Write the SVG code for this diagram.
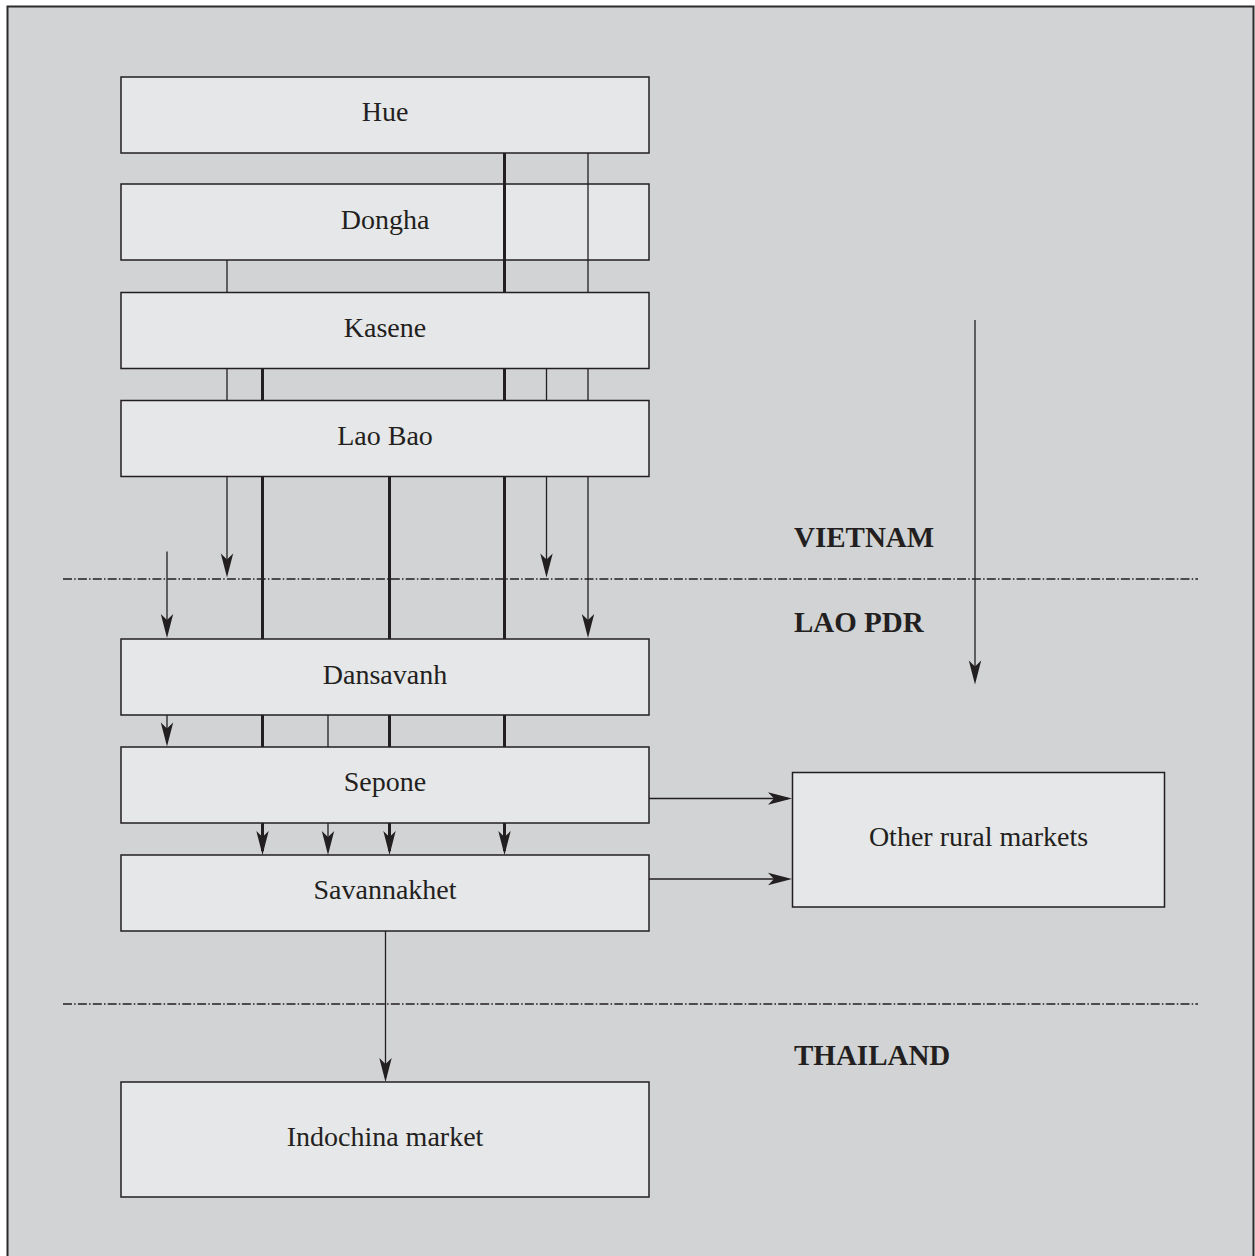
<svg xmlns="http://www.w3.org/2000/svg" width="1255" height="1256" viewBox="0 0 1255 1256">
  <style>
    .node rect { fill: #e6e7e8; stroke: #231f20; stroke-width: 1.5; }
    .node text { font-family: "Liberation Serif", "Times New Roman", serif; font-size: 28px; fill: #231f20; text-anchor: middle; }
    .region { font-family: "Liberation Serif", "Times New Roman", serif; font-size: 29px; font-weight: bold; fill: #231f20; }
    .thin { stroke: #231f20; stroke-width: 1.3; fill: none; }
    .thick { stroke: #231f20; stroke-width: 3; fill: none; }
    .border { stroke: #231f20; stroke-width: 1.3; stroke-dasharray: 9 2.2 1.5 2.2; fill: none; }
  </style>
  <defs>
    <marker id="arrow" markerUnits="userSpaceOnUse" viewBox="-25 -7 26 14" refX="-4" refY="0" markerWidth="26" markerHeight="14" orient="auto">
      <path d="M0,0 L-24,-6.2 L-18,0 L-24,6.2 Z" fill="#231f20"/>
    </marker>
  </defs>

  <!-- page background and frame -->
  <rect x="7.5" y="6.5" width="1246" height="1270" fill="#d1d3d4" stroke="#2b2b2b" stroke-width="2"/>

  <!-- border lines between countries -->
  <g id="borders">
    <line class="border" x1="63" y1="579" x2="1198" y2="579"/>
    <line class="border" x1="63" y1="1004" x2="1198" y2="1004"/>
  </g>

  <!-- country labels -->
  <text class="region" x="794" y="547">VIETNAM</text>
  <text class="region" x="794" y="632">LAO PDR</text>
  <text class="region" x="794" y="1065">THAILAND</text>

  <!-- nodes -->
  <g id="hue" class="node"><rect x="121" y="77" width="528" height="76"/><text x="385" y="121">Hue</text></g>
  <g id="dongha" class="node"><rect x="121" y="184" width="528" height="76"/><text x="385" y="228.5">Dongha</text></g>
  <g id="kasene" class="node"><rect x="121" y="292.5" width="528" height="76"/><text x="385" y="337">Kasene</text></g>
  <g id="laobao" class="node"><rect x="121" y="400.5" width="528" height="76"/><text x="385" y="445">Lao Bao</text></g>
  <g id="dansavanh" class="node"><rect x="121" y="639" width="528" height="76"/><text x="385" y="683.5">Dansavanh</text></g>
  <g id="sepone" class="node"><rect x="121" y="747" width="528" height="76"/><text x="385" y="791">Sepone</text></g>
  <g id="savannakhet" class="node"><rect x="121" y="855" width="528" height="76"/><text x="385" y="899">Savannakhet</text></g>
  <g id="indochina" class="node"><rect x="121" y="1082" width="528" height="115"/><text x="385" y="1146">Indochina market</text></g>
  <g id="rural" class="node"><rect x="792.5" y="772.5" width="372" height="134.5"/><text x="978.5" y="846">Other rural markets</text></g>

  <!-- connectors -->
  <g id="connectors">
    <!-- x = 504.5, thick route from Hue -->
    <line class="thick" x1="504.5" y1="153" x2="504.5" y2="292.5"/>
    <line class="thick" x1="504.5" y1="368.5" x2="504.5" y2="400.5"/>
    <line class="thick" x1="504.5" y1="476.5" x2="504.5" y2="639"/>
    <line class="thick" x1="504.5" y1="715" x2="504.5" y2="747"/>
    <line class="thick" x1="504.5" y1="823" x2="504.5" y2="851" marker-end="url(#arrow)"/>

    <!-- x = 588, thin route from Hue -->
    <line class="thin" x1="588" y1="153" x2="588" y2="292.5"/>
    <line class="thin" x1="588" y1="368.5" x2="588" y2="400.5"/>
    <line class="thin" x1="588" y1="476.5" x2="588" y2="634" marker-end="url(#arrow)"/>

    <!-- x = 227, thin route from Dongha -->
    <line class="thin" x1="227" y1="260" x2="227" y2="292.5"/>
    <line class="thin" x1="227" y1="368.5" x2="227" y2="400.5"/>
    <line class="thin" x1="227" y1="476.5" x2="227" y2="573.5" marker-end="url(#arrow)"/>

    <!-- x = 262.5, thick route from Kasene -->
    <line class="thick" x1="262.5" y1="368.5" x2="262.5" y2="400.5"/>
    <line class="thick" x1="262.5" y1="476.5" x2="262.5" y2="639"/>
    <line class="thick" x1="262.5" y1="715" x2="262.5" y2="747"/>
    <line class="thick" x1="262.5" y1="823" x2="262.5" y2="851" marker-end="url(#arrow)"/>

    <!-- x = 546.5, thin route from Kasene -->
    <line class="thin" x1="546.5" y1="368.5" x2="546.5" y2="400.5"/>
    <line class="thin" x1="546.5" y1="476.5" x2="546.5" y2="573.5" marker-end="url(#arrow)"/>

    <!-- x = 389.5, thick route from Lao Bao -->
    <line class="thick" x1="389.5" y1="476.5" x2="389.5" y2="639"/>
    <line class="thick" x1="389.5" y1="715" x2="389.5" y2="747"/>
    <line class="thick" x1="389.5" y1="823" x2="389.5" y2="851" marker-end="url(#arrow)"/>

    <!-- x = 167, thin route entering at the border -->
    <line class="thin" x1="167" y1="551.5" x2="167" y2="634" marker-end="url(#arrow)"/>
    <line class="thin" x1="167" y1="715" x2="167" y2="742.5" marker-end="url(#arrow)"/>

    <!-- x = 328, thin route from Dansavanh -->
    <line class="thin" x1="328" y1="715" x2="328" y2="747"/>
    <line class="thin" x1="328" y1="823" x2="328" y2="851" marker-end="url(#arrow)"/>

    <!-- free-standing direction arrow -->
    <line class="thin" x1="975" y1="320" x2="975" y2="680.5" marker-end="url(#arrow)"/>

    <!-- to other rural markets -->
    <line class="thin" x1="649" y1="798.5" x2="788" y2="798.5" marker-end="url(#arrow)"/>
    <line class="thin" x1="649" y1="879" x2="788" y2="879" marker-end="url(#arrow)"/>

    <!-- Savannakhet to Indochina market -->
    <line class="thin" x1="385.5" y1="931" x2="385.5" y2="1078" marker-end="url(#arrow)"/>
  </g>
</svg>
